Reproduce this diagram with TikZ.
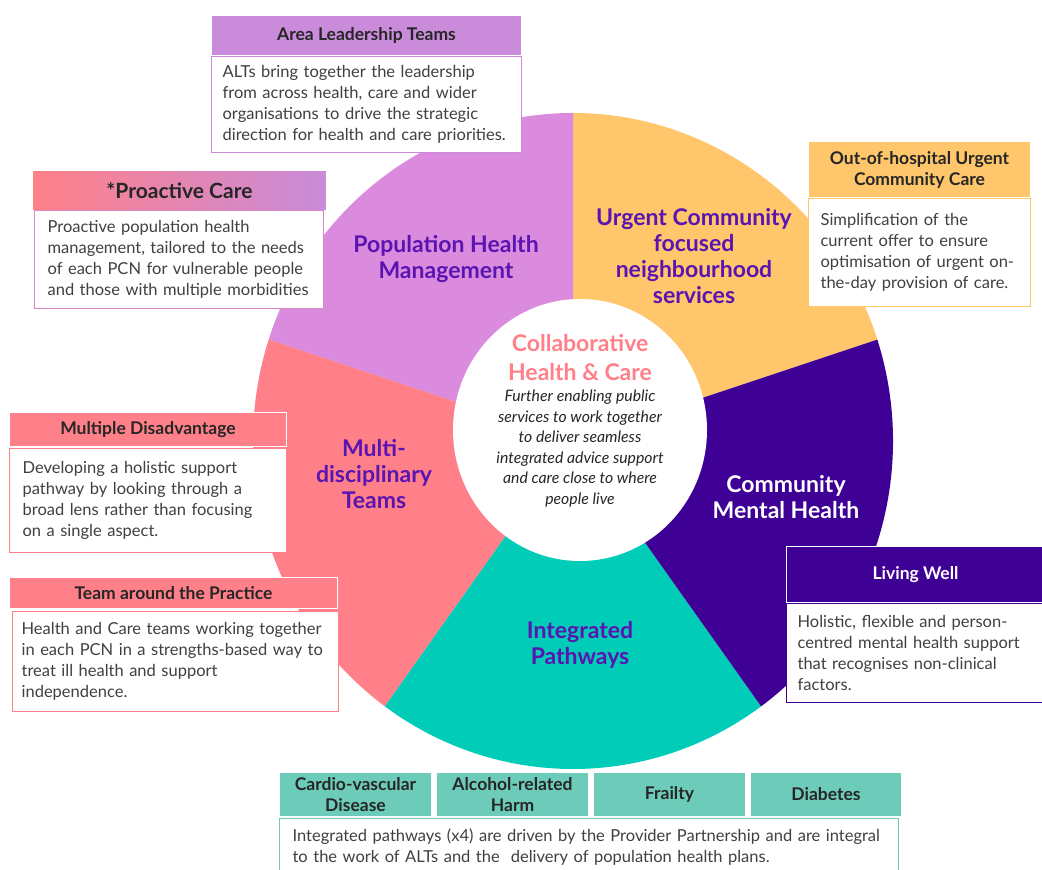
\documentclass[tikz,border=0pt]{standalone}
\usepackage{fontspec}
\setmainfont{Lato}
\usetikzlibrary{calc}
\usetikzlibrary{positioning}

\definecolor{lilacw}{HTML}{DB8BDD}
\definecolor{lilachdr}{HTML}{C98BDA}
\definecolor{orangew}{HTML}{FFC66B}
\definecolor{purplew}{HTML}{3F0096}
\definecolor{tealw}{HTML}{00CCB8}
\definecolor{tealhdr}{HTML}{6DCCB9}
\definecolor{pinkw}{HTML}{FF8088}
\definecolor{titlepurple}{HTML}{5A14B2}
\definecolor{bodytext}{HTML}{404040}
\definecolor{hdrtext}{HTML}{262626}

\tikzset{
	wedgetitle/.style={
		font=\fontsize{23}{26}\selectfont\bfseries,
		text=titlepurple,
		align=center},
	hdr/.style={
		draw=white, line width=1pt,
		font=\fontsize{17.5}{21}\selectfont\bfseries,
		text=hdrtext,
		align=center,
		inner sep=0pt,
		anchor=north west},
	txtbox/.style={
		fill=white, line width=1.2pt,
		font=\fontsize{16.5}{21}\selectfont,
		text=bodytext,
		align=left,
		inner xsep=12pt, inner ysep=0pt,
		anchor=north west},
}

\begin{document}
\begin{tikzpicture}[x=1pt,y=1pt]
	\useasboundingbox (0,0) rectangle (1042,870);
	% wheel
	\coordinate (mid) at (573,429);
	\fill[orangew] (mid) -- +(18:320 and 328) arc[start angle=18, end angle=90, x radius=320, y radius=328] -- cycle;
	\fill[lilacw] (mid) -- +(90:320 and 328) arc[start angle=90, end angle=162, x radius=320, y radius=328] -- cycle;
	\fill[pinkw] (mid) -- +(162:320 and 328) arc[start angle=162, end angle=234, x radius=320, y radius=328] -- cycle;
	\fill[tealw] (mid) -- +(234:320 and 328) arc[start angle=234, end angle=306, x radius=320, y radius=328] -- cycle;
	\fill[purplew] (mid) -- +(306:320 and 328) arc[start angle=306, end angle=378, x radius=320, y radius=328] -- cycle;
	\fill[white] (580,440) ellipse [x radius=127, y radius=131];

	\node[wedgetitle] (phm) at (446,611) {Population Health\\Management};
	\node[wedgetitle] (ucn) at (694,614) {Urgent Community\\focused\\neighbourhood\\services};
	\node[wedgetitle, text=white] (cmh) at (786,373) {Community\\Mental Health};
	\node[wedgetitle] (ip) at (580,225) {Integrated\\Pathways};
	\node[wedgetitle] (mdt) at (374,396) {Multi-\\disciplinary\\Teams};

	\node[wedgetitle, text=pinkw, font=\fontsize{23}{29}\selectfont\bfseries] (chc) at (580,512.5) {Collaborative\\Health \& Care};
	\node[align=center, text=hdrtext, font=\fontsize{15.8}{20.6}\selectfont\itshape] (chcdesc) at (580,421.5)
		{Further enabling public\\services to work together\\to deliver seamless\\integrated advice support\\and care close to where\\people live};

	% callouts
	\node[hdr, fill=lilachdr, minimum width=310, minimum height=40] (althdr) at (211,855) {Area Leadership Teams};
	\node[txtbox, draw=lilachdr, inner xsep=11pt, text width=288, minimum height=96, below=0pt of althdr.south west, anchor=north west] (alt)
		{ALTs bring together the leadership\\from across health, care and wider\\organisations to drive the strategic\\direction for health and care priorities.};

	\node[hdr, left color=pinkw, right color=lilachdr, minimum width=294, minimum height=40, font=\fontsize{21}{21}\selectfont\bfseries] (pchdr) at (32,700) {*Proactive Care};
	\node[txtbox, draw=lilachdr!70!pinkw, inner xsep=13pt, text width=263, minimum height=98] (pc) at (34,660)
		{Proactive population health\\management, tailored to the needs\\of each PCN for vulnerable people\\and those with multiple morbidities};

	\node[hdr, fill=orangew, minimum width=222, minimum height=56] (oohhdr) at (808,729) {Out-of-hospital Urgent\\Community Care};
	\node[txtbox, draw=orangew, text width=198, minimum height=108, below=0pt of oohhdr.south west, anchor=north west] (ooh)
		{Simplification of the\\current offer to ensure\\optimisation of urgent on-\\the-day provision of care.};

	\node[hdr, fill=pinkw, minimum width=277, minimum height=34] (mdhdr) at (9,458) {Multiple Disadvantage};
	\node[txtbox, draw=pinkw, inner xsep=13pt, text width=251, minimum height=104] (md) at (9,422)
		{Developing a holistic support\\pathway by looking through a\\broad lens rather than focusing\\on a single aspect.};

	\node[hdr, fill=pinkw, minimum width=328, minimum height=31] (taphdr) at (9,293) {Team around the Practice};
	\node[txtbox, draw=pinkw, inner xsep=9pt, text width=308, minimum height=100] (tap) at (12,259)
		{Health and Care teams working together\\in each PCN in a strengths-based way to\\treat ill health and support\\independence.};

	\node[hdr, fill=purplew, text=white, minimum width=258, minimum height=56] (lwhdr) at (786,324) {Living Well};
	\node[txtbox, draw=purplew, inner xsep=11pt, text width=236, minimum height=99, below=0pt of lwhdr.south west, anchor=north west] (lw)
		{Holistic, flexible and person-\\centred mental health support\\that recognises non-clinical\\factors.};

	% integrated pathways
	\node[hdr, fill=tealhdr, minimum width=152, minimum height=44] (cvd) at (279,98) {Cardio-vascular\\Disease};
	\node[hdr, fill=tealhdr, minimum width=152, minimum height=44, right=4pt of cvd] (arh) {Alcohol-related\\Harm};
	\node[hdr, fill=tealhdr, minimum width=152, minimum height=44, right=4pt of arh] (frail) {Frailty};
	\node[hdr, fill=tealhdr, minimum width=151, minimum height=44, right=4pt of frail] (diab) {Diabetes};
	\node[txtbox, draw=tealhdr, inner xsep=13pt, text width=593, minimum height=57] (pw) at (279,52)
		{Integrated pathways (x4) are driven by the Provider Partnership and are integral\\to the work of ALTs and the\ \ delivery of population health plans.};
\end{tikzpicture}
\end{document}
